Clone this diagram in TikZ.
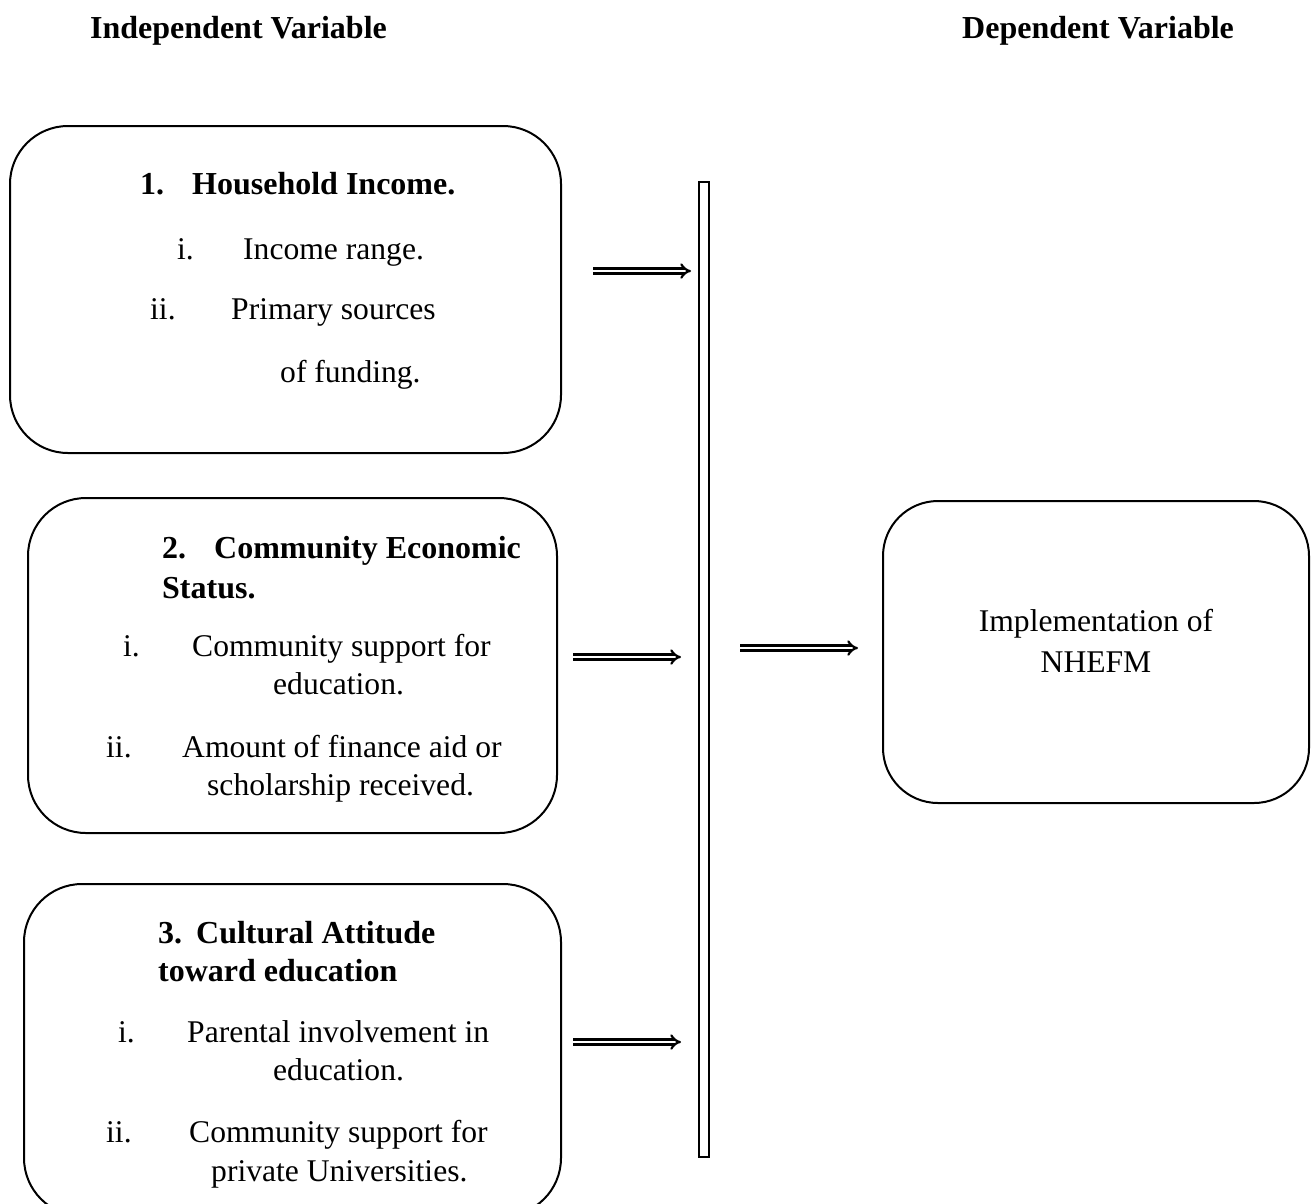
\documentclass[tikz,border=0pt]{standalone}
\usepackage{fontspec}
\setmainfont{Liberation Serif}
\usetikzlibrary{arrows.meta}
\begin{document}
\begin{tikzpicture}[x=1pt,y=-1pt,
  box/.style={draw, line width=2pt, rounded corners=58pt},
  txt/.style={anchor=base west, inner sep=0pt, font=\fontsize{31.6}{37}\selectfont},
  btxt/.style={txt, font=\fontsize{32}{38}\selectfont\bfseries},
  dbl/.style={double, line width=2.2pt, double distance=2.8pt, -{Implies}}]
\useasboundingbox (0,0) rectangle (1314,1203);
\clip (0,0) rectangle (1314,1203);
% headers
\node[btxt] (hi) at (90,38) {Independent Variable};
\node[btxt] (hd) at (962,38) {Dependent Variable};
% boxes
\draw[box] (10,126) rectangle (561,453);
\draw[box] (28,498) rectangle (557,833);
\draw[box] (24,884) rectangle (561,1216);
\draw[box, rounded corners=55pt] (883,501) rectangle (1309,803);
% box 1 text
\node[btxt] (n1) at (140,194) {1.};
\node[btxt] (t1) at (192,194) {Household Income.};
\node[txt] (n1a) at (177,259) {i.};
\node[txt] (t1a) at (243,259) {Income range.};
\node[txt] (n1b) at (150,319) {ii.};
\node[txt] (t1b) at (231,319) {Primary sources};
\node[txt] (t1c) at (280,382) {of funding.};
% box 2 text
\node[btxt] (n2) at (162,558) {2.};
\node[btxt] (t2) at (214,558) {Community Economic};
\node[btxt] (t2s) at (162,598) {Status.};
\node[txt] (n2a) at (123,656) {i.};
\node[txt] (t2a) at (192,656) {Community support for};
\node[txt] (t2b) at (273,694) {education.};
\node[txt] (n2c) at (106,757) {ii.};
\node[txt] (t2c) at (182,757) {Amount of finance aid or};
\node[txt] (t2d) at (207,795) {scholarship received.};
% box 3 text
\node[btxt] (n3) at (158,943) {3.};
\node[btxt] (t3) at (196,943) {Cultural Attitude};
\node[btxt] (t3s) at (158,981) {toward education};
\node[txt] (n3a) at (118,1042) {i.};
\node[txt] (t3a) at (187,1042) {Parental involvement in};
\node[txt] (t3b) at (273,1080) {education.};
\node[txt] (n3c) at (106,1142) {ii.};
\node[txt] (t3c) at (189,1142) {Community support for};
\node[txt] (t3d) at (211,1181) {private Universities.};
% right box text
\node[txt, anchor=base] (r1) at (1096,631) {Implementation of};
\node[txt, anchor=base] (r2) at (1096,672) {NHEFM};
% bar
\draw[line width=2pt] (699,182) rectangle (709,1157);
\coordinate (bar1) at (691,271);
\coordinate (bar2) at (681,657);
\coordinate (bar3) at (681,1042);
\coordinate (a1) at (593,271);
\coordinate (a2) at (573,657);
\coordinate (a3) at (573,1042);
\coordinate (ro) at (740,648);
\coordinate (ri) at (858,648);
% arrows
\draw[dbl] (a1) -- (bar1);
\draw[dbl] (a2) -- (bar2);
\draw[dbl] (a3) -- (bar3);
\draw[dbl] (ro) -- (ri);
\end{tikzpicture}
\end{document}
